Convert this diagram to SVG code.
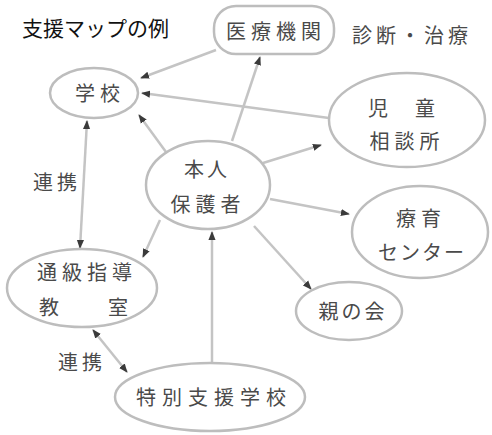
<svg xmlns="http://www.w3.org/2000/svg" width="492" height="435" viewBox="0 0 492 435">
<style>
.shape{fill:none;stroke:#bdbdbd;stroke-width:2.5}
.t{font-family:"Noto Sans CJK JP","Noto Sans CJK SC",sans-serif;font-size:20px;fill:#4a4a4a;text-anchor:middle}
.title{font-family:"Noto Sans CJK JP","Noto Sans CJK SC",sans-serif;font-size:21px;fill:#111}
.ln{stroke:#c4c4c4;stroke-width:2.5;fill:none;marker-end:url(#ah)}
.both{marker-start:url(#ah)}
</style>
<defs>
<marker id="ah" viewBox="0 0 10 10" refX="9" refY="5" markerWidth="9" markerHeight="9" markerUnits="userSpaceOnUse" orient="auto-start-reverse">
<path d="M0,1 L10,5 L0,9 z" fill="#3a3a3a"/>
</marker>
</defs>
<rect width="492" height="435" fill="#fff"/>
<text class="title" x="22" y="36">支援マップの例</text>

<g id="connectors">
<line class="ln" x1="232" y1="141" x2="260" y2="57"/>
<line class="ln" x1="216" y1="50" x2="141" y2="78"/>
<line class="ln" x1="329" y1="118" x2="142" y2="93"/>
<line class="ln" x1="166" y1="152" x2="139" y2="115"/>
<line class="ln" x1="263" y1="163" x2="321" y2="145"/>
<line class="ln" x1="270" y1="199" x2="349" y2="214"/>
<line class="ln" x1="254" y1="226" x2="311" y2="289"/>
<line class="ln" x1="212" y1="363" x2="212" y2="232"/>
<line class="ln" x1="160" y1="220" x2="143" y2="257"/>
<line class="ln both" x1="87" y1="121" x2="80" y2="248"/>
<line class="ln both" x1="93" y1="330" x2="127" y2="372"/>
<text class="t" x="57" y="190" style="letter-spacing:4px">連携</text>
<text class="t" x="82" y="370" style="letter-spacing:4px">連携</text>
</g>

<g id="node-iryo">
<rect class="shape" x="214" y="6" width="120" height="48" rx="22"/>
<text class="t" x="276" y="39" style="letter-spacing:5px">医療機関</text>
</g>
<text class="t" x="412" y="43" style="letter-spacing:4px">診断・治療</text>

<g id="node-gakko">
<ellipse class="shape" cx="94" cy="93" rx="44" ry="25"/>
<text class="t" x="100" y="101" style="letter-spacing:5px">学校</text>
</g>

<g id="node-honnin">
<ellipse class="shape" cx="208" cy="185" rx="62" ry="44"/>
<text class="t" x="207" y="177" style="letter-spacing:3px">本人</text>
<text class="t" x="208" y="212" style="letter-spacing:5px">保護者</text>
</g>

<g id="node-jido">
<ellipse class="shape" cx="407" cy="120" rx="78" ry="47"/>
<text class="t" y="116"><tspan x="378">児</tspan><tspan x="425">童</tspan></text>
<text class="t" x="407" y="149" style="letter-spacing:5px">相談所</text>
</g>

<g id="node-ryoiku">
<ellipse class="shape" cx="420" cy="232" rx="68" ry="46"/>
<text class="t" x="421" y="226" style="letter-spacing:5px">療育</text>
<text class="t" x="422" y="260" style="letter-spacing:2px">センター</text>
</g>

<g id="node-oya">
<ellipse class="shape" cx="349" cy="311" rx="53" ry="29"/>
<text class="t" x="353" y="319" style="letter-spacing:3px">親の会</text>
</g>

<g id="node-tsukyu">
<ellipse class="shape" cx="82" cy="288" rx="75" ry="39"/>
<text class="t" x="87" y="280" style="letter-spacing:5px">通級指導</text>
<text class="t" y="315"><tspan x="49">教</tspan><tspan x="118">室</tspan></text>
</g>

<g id="node-tokubetsu">
<ellipse class="shape" cx="210" cy="397" rx="95" ry="34"/>
<text class="t" x="214" y="405" style="letter-spacing:6px">特別支援学校</text>
</g>
</svg>
